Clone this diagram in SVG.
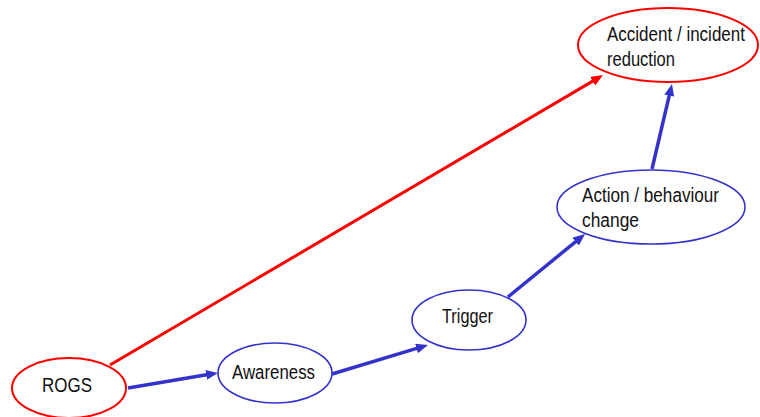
<svg xmlns="http://www.w3.org/2000/svg" width="760" height="417" viewBox="0 0 760 417">
<style>
.bg{fill:#ffffff}
.red{fill:#ffffff;stroke:#ff0000;stroke-width:2}
.blue{fill:#ffffff;stroke:#3333cc;stroke-width:1.6}
.lbl{font-family:"Liberation Sans",Arial,sans-serif;font-size:20px;fill:#111111}
.ab{stroke:#3333cc;stroke-width:3.5;fill:none}
.ar{stroke:#ff0000;stroke-width:3;fill:none}
</style>
<defs>
<marker id="hb" markerUnits="userSpaceOnUse" markerWidth="13" markerHeight="11" refX="2" refY="5" orient="auto">
<path d="M0,0 L12,5 L0,10 z" fill="#3333cc"/>
</marker>
<marker id="hr" markerUnits="userSpaceOnUse" markerWidth="13" markerHeight="11" refX="2" refY="5" orient="auto">
<path d="M0,0 L12,5 L0,10 z" fill="#ff0000"/>
</marker>
</defs>
<rect class="bg" x="0" y="0" width="760" height="417"/>
<g id="connectors">
<line class="ar" x1="110" y1="365" x2="594.4" y2="80.1" marker-end="url(#hr)"/>
<line class="ab" x1="128" y1="388" x2="208.1" y2="374.6" marker-end="url(#hb)"/>
<line class="ab" x1="332" y1="374" x2="418.4" y2="347.9" marker-end="url(#hb)"/>
<line class="ab" x1="508" y1="297" x2="577.3" y2="240.3" marker-end="url(#hb)"/>
<line class="ab" x1="652" y1="169" x2="669.7" y2="93.7" marker-end="url(#hb)"/>
</g>
<g id="rogs">
<ellipse class="red" cx="69" cy="388" rx="57" ry="30"/>
<text class="lbl" x="42" y="392" textLength="50" lengthAdjust="spacingAndGlyphs">ROGS</text>
</g>
<g id="awareness">
<ellipse class="blue" cx="275" cy="373" rx="57" ry="30"/>
<text class="lbl" x="232" y="379" textLength="83" lengthAdjust="spacingAndGlyphs">Awareness</text>
</g>
<g id="trigger">
<ellipse class="blue" cx="469" cy="320" rx="57" ry="30"/>
<text class="lbl" x="442" y="323" textLength="51" lengthAdjust="spacingAndGlyphs">Trigger</text>
</g>
<g id="action">
<ellipse class="blue" cx="651" cy="207" rx="94" ry="37"/>
<text class="lbl" x="582" y="202" textLength="137" lengthAdjust="spacingAndGlyphs">Action / behaviour</text>
<text class="lbl" x="582" y="227" textLength="57" lengthAdjust="spacingAndGlyphs">change</text>
</g>
<g id="accident">
<ellipse class="red" cx="668" cy="45" rx="90" ry="37"/>
<text class="lbl" x="607" y="41" textLength="138" lengthAdjust="spacingAndGlyphs">Accident / incident</text>
<text class="lbl" x="607" y="66" textLength="68" lengthAdjust="spacingAndGlyphs">reduction</text>
</g>
</svg>
